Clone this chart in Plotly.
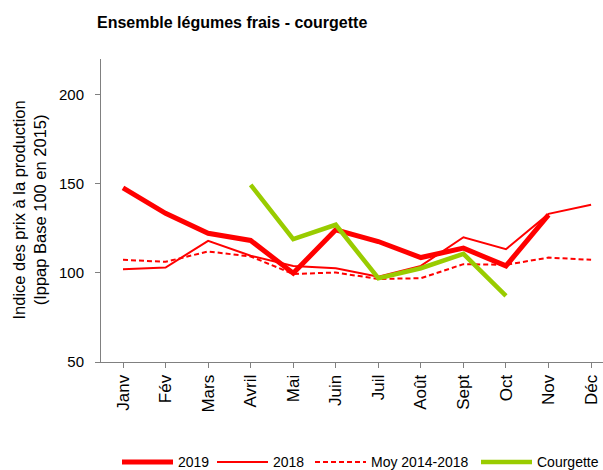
import plotly.graph_objects as go

months = ["Janv", "Fév", "Mars", "Avril", "Mai", "Juin", "Juil", "Août", "Sept", "Oct", "Nov", "Déc"]
y2019 = [147.7, 133.4, 122.2, 118.2, 99.8, 124.2, 117.6, 108.6, 113.9, 103.9, 132.6, None]
y2018 = [102.1, 103.0, 118.0, 109.6, 103.9, 102.6, 97.9, 103.9, 120.0, 113.3, 133.1, 138.2]
ymoy = [107.3, 106.2, 112.0, 109.2, 99.4, 100.2, 96.6, 97.0, 104.9, 104.5, 108.6, 107.3]
ycourgette = [None, None, None, 149.4, 118.9, 127.0, 97.0, 102.6, 110.7, 87.1, None, None]

x = list(range(len(months)))
RED = "#FF0000"
GREEN = "#99CC00"
FONT = "Liberation Sans, Arial, sans-serif"

fig = go.Figure()
fig.add_trace(go.Scatter(x=x, y=ymoy, mode="lines", name="Moy 2014-2018", legend="legend3",
                         line=dict(color=RED, width=2, dash="5px,3px")))
fig.add_trace(go.Scatter(x=x, y=y2018, mode="lines", name="2018", legend="legend2",
                         line=dict(color=RED, width=2)))
fig.add_trace(go.Scatter(x=x, y=y2019, mode="lines", name="2019", legend="legend",
                         line=dict(color=RED, width=5)))
fig.add_trace(go.Scatter(x=x, y=ycourgette, mode="lines", name="Courgette", legend="legend4",
                         line=dict(color=GREEN, width=4.5)))


def leg(px):
    return dict(orientation="h", x=(px - 5) / 603, xref="container", xanchor="left",
                y=-0.331, yanchor="middle", font=dict(size=14, family=FONT),
                itemwidth=51, bgcolor="rgba(0,0,0,0)")


fig.update_layout(
    width=603, height=470,
    margin=dict(l=101, r=0, t=59, b=108, autoexpand=False),
    paper_bgcolor="white", plot_bgcolor="white",
    font=dict(family=FONT, color="black"),
    title=dict(text="<b>Ensemble légumes frais - courgette</b>", x=97/603, xanchor="left",
               xref="container", y=1-22/470, yanchor="middle", yref="container",
               pad=dict(l=0, r=0, t=0, b=0),
               font=dict(size=16, family=FONT, color="black")),
    showlegend=True,
    legend=leg(122), legend2=leg(217), legend3=leg(315), legend4=leg(481),
    xaxis=dict(tickmode="array", tickvals=x, ticktext=months, range=[-0.517, 11.28],
               tickangle=-90, tickfont=dict(size=17, family=FONT), automargin=False,
               showline=True, linecolor="#808080", linewidth=1,
               ticks="outside", tickson="boundaries", ticklen=5, tickcolor="#808080",
               showgrid=False, zeroline=False),
    yaxis=dict(range=[50, 220], tickvals=[50, 100, 150, 200], automargin=False,
               tickfont=dict(size=15, family=FONT), ticklabelstandoff=8,
               showline=True, linecolor="#808080", linewidth=1,
               ticks="outside", ticklen=5, tickcolor="#808080",
               showgrid=False, zeroline=False),
    annotations=[dict(text="Indice des prix à la production<br>(Ippap Base 100 en 2015)",
                      xref="paper", yref="paper", x=-72/502, y=0.5, xanchor="center",
                      yanchor="middle", textangle=-90, showarrow=False,
                      font=dict(size=16.5, family=FONT, color="black"))],
)

fig.write_html("out.html", config={"displayModeBar": False},
               post_script="document.body.style.margin='0';document.body.style.padding='0';")
